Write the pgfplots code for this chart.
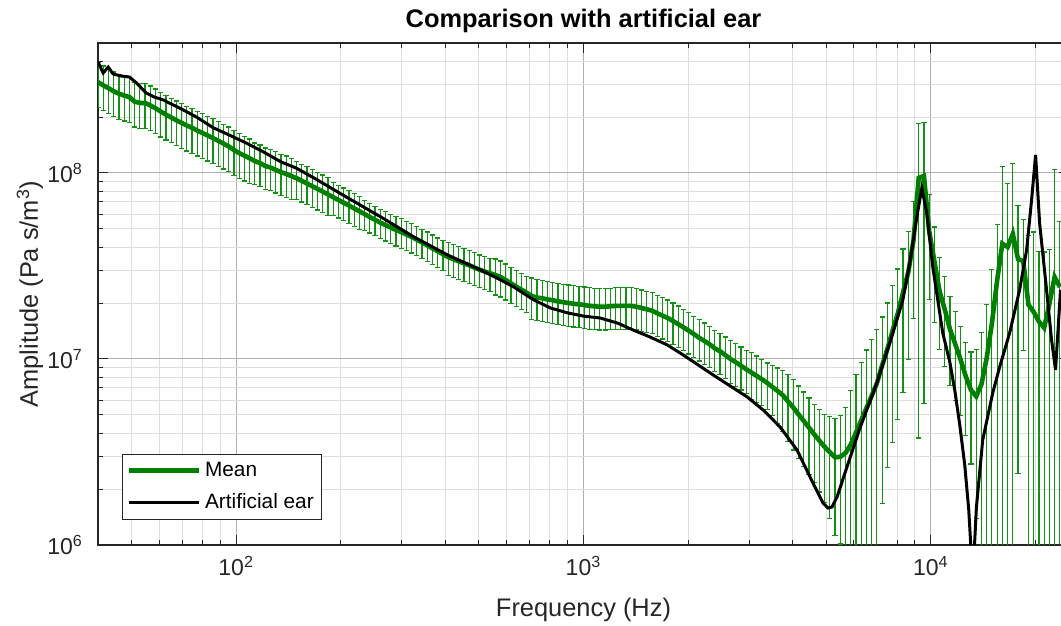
\documentclass[border=0pt]{standalone}
\usepackage{fontspec}
\setmainfont{Liberation Sans}
\usepackage{pgfplots}
\usepackage{pgfplotstable}
\pgfplotsset{compat=1.18}
\definecolor{axgray}{RGB}{38,38,38}
\definecolor{mgreen}{RGB}{0,128,0}
\definecolor{ebgreen}{RGB}{20,145,20}
\definecolor{gmaj}{RGB}{175,175,175}
\definecolor{gmin}{RGB}{222,222,222}

\pgfplotstableread{
f m ep em
40.00 3.08e8 0.27 0.27
41.41 2.96e8 0.27 0.27
42.87 2.86e8 0.27 0.27
44.38 2.75e8 0.27 0.27
45.95 2.67e8 0.27 0.27
47.57 2.61e8 0.27 0.27
49.25 2.56e8 0.27 0.27
50.98 2.42e8 0.27 0.27
52.78 2.38e8 0.27 0.27
54.64 2.38e8 0.27 0.27
56.57 2.31e8 0.27 0.27
58.56 2.23e8 0.27 0.27
60.63 2.14e8 0.27 0.27
62.77 2.06e8 0.27 0.27
64.98 1.99e8 0.27 0.27
67.27 1.92e8 0.27 0.27
69.64 1.86e8 0.27 0.27
72.10 1.80e8 0.27 0.27
74.64 1.75e8 0.27 0.27
77.28 1.69e8 0.27 0.27
80.00 1.64e8 0.27 0.27
82.82 1.59e8 0.27 0.27
85.74 1.54e8 0.27 0.27
88.77 1.49e8 0.27 0.27
91.90 1.44e8 0.27 0.27
95.14 1.39e8 0.27 0.27
98.49 1.33e8 0.27 0.27
101.97 1.28e8 0.27 0.27
105.56 1.24e8 0.27 0.27
109.29 1.20e8 0.27 0.27
113.14 1.16e8 0.25 0.25
117.13 1.13e8 0.25 0.25
121.26 1.09e8 0.25 0.25
125.53 1.07e8 0.25 0.25
129.96 1.04e8 0.25 0.25
134.54 1.01e8 0.25 0.25
139.29 9.88e7 0.25 0.25
144.20 9.62e7 0.25 0.25
149.29 9.37e7 0.23 0.23
154.55 9.07e7 0.23 0.23
160.0 8.78e7 0.23 0.23
165.6 8.49e7 0.23 0.23
171.5 8.22e7 0.23 0.23
177.5 7.94e7 0.23 0.23
183.8 7.67e7 0.23 0.23
190.3 7.41e7 0.20 0.20
197.0 7.16e7 0.20 0.20
203.9 6.92e7 0.20 0.20
211.1 6.69e7 0.20 0.20
218.6 6.45e7 0.20 0.20
226.3 6.23e7 0.20 0.20
234.3 6.01e7 0.18 0.18
242.5 5.80e7 0.18 0.18
251.1 5.60e7 0.18 0.18
259.9 5.41e7 0.18 0.18
269.1 5.25e7 0.18 0.18
278.6 5.09e7 0.18 0.18
288.4 4.94e7 0.18 0.18
298.6 4.81e7 0.18 0.18
309.1 4.67e7 0.18 0.18
320.0 4.53e7 0.18 0.18
331.3 4.38e7 0.18 0.18
343.0 4.23e7 0.18 0.18
355.1 4.08e7 0.18 0.18
367.6 3.93e7 0.18 0.18
380.6 3.79e7 0.18 0.18
394.0 3.66e7 0.18 0.18
407.9 3.53e7 0.20 0.20
422.2 3.44e7 0.20 0.20
437.1 3.35e7 0.20 0.20
452.5 3.27e7 0.20 0.20
468.5 3.19e7 0.20 0.20
485.0 3.10e7 0.20 0.20
502.1 3.02e7 0.20 0.20
519.8 2.95e7 0.20 0.20
538.2 2.89e7 0.20 0.20
557.2 2.83e7 0.22 0.22
576.8 2.76e7 0.22 0.22
597.1 2.66e7 0.22 0.22
618.2 2.55e7 0.22 0.22
640.0 2.45e7 0.22 0.22
662.6 2.36e7 0.22 0.22
686.0 2.27e7 0.22 0.22
710.2 2.18e7 0.25 0.25
735.2 2.14e7 0.25 0.25
761.1 2.12e7 0.25 0.25
788.0 2.09e7 0.25 0.25
815.7 2.07e7 0.25 0.25
844.5 2.04e7 0.25 0.25
874.3 2.02e7 0.25 0.25
905.1 2.00e7 0.25 0.25
937.0 1.98e7 0.25 0.25
970.0 1.97e7 0.25 0.25
1004 1.95e7 0.25 0.25
1040 1.93e7 0.25 0.25
1076 1.92e7 0.25 0.25
1114 1.91e7 0.25 0.25
1154 1.91e7 0.25 0.25
1194 1.92e7 0.25 0.25
1236 1.93e7 0.25 0.25
1280 1.93e7 0.25 0.25
1325 1.93e7 0.25 0.25
1372 1.93e7 0.25 0.25
1420 1.91e7 0.25 0.25
1470 1.88e7 0.25 0.25
1522 1.85e7 0.25 0.25
1576 1.82e7 0.25 0.25
1631 1.76e7 0.25 0.25
1689 1.71e7 0.25 0.25
1749 1.66e7 0.25 0.25
1810 1.60e7 0.25 0.25
1874 1.54e7 0.25 0.25
1940 1.48e7 0.25 0.25
2009 1.42e7 0.25 0.25
2079 1.36e7 0.25 0.25
2153 1.30e7 0.25 0.25
2229 1.25e7 0.25 0.25
2307 1.20e7 0.25 0.25
2389 1.14e7 0.25 0.25
2473 1.10e7 0.25 0.25
2560 1.05e7 0.25 0.25
2650 1.00e7 0.26 0.26
2744 9.61e6 0.26 0.26
2841 9.20e6 0.26 0.26
2941 8.80e6 0.26 0.26
3044 8.45e6 0.28 0.28
3152 8.11e6 0.28 0.28
3263 7.79e6 0.28 0.28
3378 7.44e6 0.28 0.28
3497 7.08e6 0.30 0.30
3620 6.73e6 0.33 0.33
3748 6.39e6 0.36 0.36
3880 5.92e6 0.39 0.39
4017 5.49e6 0.41 0.41
4159 5.04e6 0.42 0.42
4305 4.65e6 0.43 0.43
4457 4.28e6 0.44 0.44
4614 3.94e6 0.45 0.45
4777 3.64e6 0.47 0.47
4946 3.37e6 0.50 0.50
5120 3.15e6 0.56 0.56
5301 2.96e6 0.62 0.62
5488 2.98e6 0.66 0.66
5681 3.12e6 0.75 0.75
5882 3.47e6 0.95 0.95
6089 4.01e6 1.05 0.999
6304 4.68e6 1.05 0.999
6526 5.45e6 1.05 0.999
6756 6.34e6 1.00 0.999
6995 7.40e6 0.95 0.95
7241 9.24e6 0.82 0.82
7497 1.13e7 0.77 0.77
7761 1.42e7 0.75 0.75
8035 1.76e7 0.73 0.73
8318 2.28e7 0.71 0.71
8611 2.92e7 0.66 0.66
8915 4.34e7 0.62 0.62
9229 9.40e7 0.96 0.96
9555 9.64e7 0.94 0.94
9892 4.88e7 0.57 0.57
10240 3.35e7 0.53 0.53
10601 2.31e7 0.515 0.515
10975 1.84e7 0.505 0.505
11362 1.44e7 0.50 0.50
11763 1.20e7 0.50 0.50
12177 9.95e6 0.50 0.50
12607 8.07e6 0.52 0.52
13052 6.81e6 0.60 0.60
13512 6.29e6 0.78 0.78
13989 7.31e6 0.90 0.90
14482 1.01e7 0.95 0.95
14993 1.55e7 0.95 0.95
15522 2.64e7 1.00 0.999
16069 4.17e7 1.60 0.999
16636 4.00e7 1.20 0.999
17223 4.70e7 1.40 0.999
17830 3.45e7 0.93 0.93
18459 3.36e7 0.67 0.67
19110 1.96e7 1.36 0.999
19784 1.79e7 1.69 0.999
20480 1.59e7 1.38 0.999
21203 1.47e7 1.56 0.999
21950 1.98e7 0.95 0.95
22724 2.76e7 2.80 0.999
23525 2.44e7 1.24 0.999
}\meandata

\pgfplotstableread{
f a
40.0 3.95e8
41.4 3.45e8
42.8 3.71e8
44.2 3.41e8
46.7 3.32e8
49.3 3.28e8
51.6 3.05e8
55.1 2.69e8
58.1 2.56e8
61.7 2.47e8
65.0 2.35e8
68.6 2.24e8
76.8 2.00e8
85.9 1.75e8
95.5 1.60e8
106.8 1.45e8
119.6 1.30e8
134.7 1.146e8
148.7 1.064e8
167.5 9.40e7
209.8 7.34e7
261.0 5.80e7
324.8 4.53e7
406.6 3.62e7
505.8 3.01e7
577.5 2.66e7
629.3 2.44e7
718.5 2.08e7
803.8 1.88e7
899.5 1.77e7
1000 1.70e7
1119 1.66e7
1252 1.56e7
1392 1.43e7
1558 1.31e7
1743 1.19e7
1939 1.05e7
2364 8.20e6
2960 6.25e6
3290 5.32e6
3682 4.31e6
4120 3.24e6
4580 2.15e6
4894 1.68e6
5058 1.58e6
5194 1.60e6
5370 1.81e6
5737 2.63e6
6252 4.26e6
6996 7.43e6
7779 1.38e7
8309 2.08e7
8700 3.28e7
9116 5.80e7
9422 8.31e7
9739 6.09e7
10133 3.12e7
10826 1.38e7
11340 9.64e6
11720 6.81e6
12118 4.42e6
12524 2.69e6
12862 1.54e6
13206 6.5e5
13532 1.60e6
14108 3.67e6
15077 6.57e6
15787 9.06e6
16866 1.38e7
18018 2.35e7
18874 3.85e7
19509 7.16e7
20032 1.25e8
20570 5.39e7
21544 2.35e7
22266 1.27e7
22864 8.73e6
23632 2.35e7
}\eardata

\begin{document}
\begin{tikzpicture}
\begin{axis}[
  scale only axis, width=485.5pt, height=251pt,
  xmode=log, ymode=log,
  xmin=40, xmax=25000, ymin=1e6, ymax=5e8,
  xtick={100,1000,10000},
  xticklabels={10\textsuperscript{2},10\textsuperscript{3},10\textsuperscript{4}},
  ytick={1e6,1e7,1e8},
  yticklabels={10\textsuperscript{6},10\textsuperscript{7},10\textsuperscript{8}},
  minor xtick={40,50,60,70,80,90,200,300,400,500,600,700,800,900,2000,3000,4000,5000,6000,7000,8000,9000,20000},
  minor ytick={2e6,3e6,4e6,5e6,6e6,7e6,8e6,9e6,2e7,3e7,4e7,5e7,6e7,7e7,8e7,9e7,2e8,3e8,4e8},
  grid=both,
  major grid style={gmaj, line width=0.5pt},
  minor grid style={gmin, line width=0.5pt},
  xtick pos=both, ytick pos=both, tick align=inside,
  major tick length=4.8pt, minor tick length=2.6pt,
  tick style={axgray, line width=0.5pt},
  axis line style={axgray, line width=0.6pt},
  ticklabel style={font=\fontsize{11.5}{13}\selectfont, text=axgray},
  xticklabel style={yshift=-2pt},
  yticklabel style={xshift=-4pt},
  title={Comparison with artificial ear},
  title style={at={(axis description cs:0.5,1)}, anchor=base, yshift=1.5pt, inner sep=0pt, font=\bfseries\fontsize{12.7}{14}\selectfont},
  xlabel={Frequency (Hz)},
  ylabel={Amplitude (Pa s/m\textsuperscript{3})},
  xlabel style={at={(axis description cs:0.5,-0.1235)}, anchor=center, yshift=-1.5pt, font=\fontsize{12.7}{14}\selectfont, text=axgray},
  ylabel style={at={(axis description cs:-0.070,0.5)}, anchor=center, font=\fontsize{12.7}{14}\selectfont, text=axgray},
  legend style={at={(axis description cs:0.0247,0.0498)}, anchor=south west, draw=axgray, line width=0.5pt, fill=white, font=\fontsize{10.4}{12}\selectfont, inner xsep=2pt, inner ysep=2pt, row sep=3pt, cells={anchor=west}},
  legend image code/.code={\draw[#1] (0pt,0pt) -- (35pt,0pt);},
  clip=true,
]
\addplot[forget plot, ebgreen, line width=0.6pt, mark=none,
  error bars/.cd, y dir=both, y explicit relative,
  error mark=-,
  error bar style={ebgreen, line width=0.6pt},
  error mark options={rotate=90, ebgreen, line width=0.6pt, mark size=1.3pt}]
  table[x=f, y=m, y error plus=ep, y error minus=em]{\meandata};
\addplot[mgreen, line width=2.3pt, mark=none] table[x=f, y=m]{\meandata};
\addlegendentry{Mean}
\addplot[black, line width=1.5pt, mark=none] table[x=f, y=a]{\eardata};
\addlegendentry{Artificial ear}
\end{axis}
\pgfresetboundingbox
\useasboundingbox (-49pt,-40.5pt) rectangle (481.5pt,272.5pt);
\end{tikzpicture}
\end{document}
